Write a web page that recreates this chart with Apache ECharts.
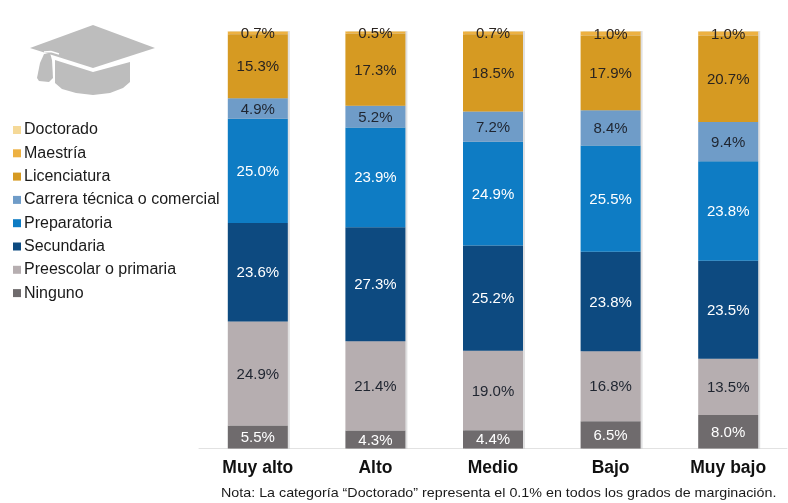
<!DOCTYPE html>
<html>
<head>
<meta charset="utf-8">
<style>html,body{margin:0;padding:0;background:#fff}#c{width:788px;height:503px}</style>
<script src="https://cdn.jsdelivr.net/npm/echarts@6/dist/echarts.min.js"></script>
</head>
<body>
<div id="c"></div>
<script>
const categories = ['Muy alto', 'Alto', 'Medio', 'Bajo', 'Muy bajo'];
const ninguno = [5.5, 4.3, 4.4, 6.5, 8.0];
const preescolar = [24.9, 21.4, 19.0, 16.8, 13.5];
const secundaria = [23.6, 27.3, 25.2, 23.8, 23.5];
const preparatoria = [25.0, 23.9, 24.9, 25.5, 23.8];
const carrera = [4.9, 5.2, 7.2, 8.4, 9.4];
const licenciatura = [15.3, 17.3, 18.5, 17.9, 20.7];
const maestria = [0.7, 0.5, 0.7, 1.0, 1.0];
const doctorado = [0.1, 0.1, 0.1, 0.1, 0.1];
const legendOrder = ['Doctorado', 'Maestría', 'Licenciatura', 'Carrera técnica o comercial', 'Preparatoria', 'Secundaria', 'Preescolar o primaria', 'Ninguno'];
const note = 'Nota: La categoría “Doctorado” representa el 0.1% en todos los grados de marginación.';

const FONT = '"Liberation Sans", Arial, sans-serif';
const CAP = '#BDBDBD';

// Stacked from the base upward; Doctorado carries no printed label.
const layers = [
  ['Ninguno', ninguno, '#6F6B6D', '#ffffff'],
  ['Preescolar o primaria', preescolar, '#B6AEB0', '#1f2530'],
  ['Secundaria', secundaria, '#0D4A80', '#ffffff'],
  ['Preparatoria', preparatoria, '#0E7CC4', '#ffffff'],
  ['Carrera técnica o comercial', carrera, '#6F9CC8', '#1f2530'],
  ['Licenciatura', licenciatura, '#D69A22', '#2a2420'],
  ['Maestría', maestria, '#EDB142', '#2a2420'],
  ['Doctorado', doctorado, '#F5D998', null]
];

const series = layers.map(([name, data, color, labelColor]) => ({
  name,
  type: 'bar',
  stack: 'total',
  barWidth: 60,
  data,
  itemStyle: { color, shadowColor: 'rgba(60,60,70,0.16)', shadowBlur: 0, shadowOffsetX: 2 },
  label: labelColor ? {
    show: true,
    position: 'inside',
    offset: [0, 1],
    formatter: p => p.value.toFixed(1) + '%',
    color: labelColor,
    fontFamily: FONT,
    fontSize: 15
  } : { show: false }
}));

const chart = echarts.init(document.getElementById('c'), null, { renderer: 'canvas' });
chart.setOption({
  animation: false,
  backgroundColor: '#ffffff',
  grid: { left: 199, top: 31, width: 588, height: 417.5, containLabel: false },
  legend: {
    orient: 'vertical',
    left: 8,
    top: 117,
    data: legendOrder,
    icon: 'rect',
    itemWidth: 8,
    itemHeight: 8,
    itemGap: 7.3,
    selectedMode: false,
    textStyle: { fontFamily: FONT, fontSize: 16, lineHeight: 16, color: '#1a1a1a', padding: [0, 0, 0, -2] }
  },
  xAxis: {
    type: 'category',
    data: categories,
    axisLine: { lineStyle: { color: '#e2e2e2', width: 1 } },
    axisTick: { show: false },
    axisLabel: { fontFamily: FONT, fontSize: 17.5, fontWeight: 'bold', color: '#111', margin: 11 }
  },
  yAxis: { type: 'value', min: 0, max: 100, show: false },
  series,
  graphic: [
    // Mortarboard: board, cap body, tassel and the light seam beside it
    {
      type: 'polygon', silent: true,
      shape: { points: [[30, 48], [93, 25], [155, 48], [93, 68]] },
      style: { fill: CAP }
    },
    {
      type: 'polygon', silent: true,
      shape: { points: [[55, 60], [93, 72], [130, 62], [130, 82], [123, 88], [110, 93], [93, 95], [76, 93], [62, 89], [55, 83]] },
      style: { fill: CAP }
    },
    {
      type: 'polyline', silent: true,
      shape: { points: [[44, 52], [51, 51.5], [59, 54]] },
      style: { stroke: '#ffffff', lineWidth: 1.5, fill: null }
    },
    {
      type: 'polygon', silent: true,
      shape: { points: [[44, 54], [50, 53], [52, 60], [53, 78], [49, 82], [39, 81], [37, 78], [40, 63]] },
      style: { fill: CAP }
    },
    {
      type: 'text',
      left: 221,
      top: 487,
      silent: true,
      scaleX: 1.135,
      style: { text: note, font: '12.6px ' + FONT, fill: '#1a1a1a' }
    }
  ]
});
</script>
</body>
</html>
